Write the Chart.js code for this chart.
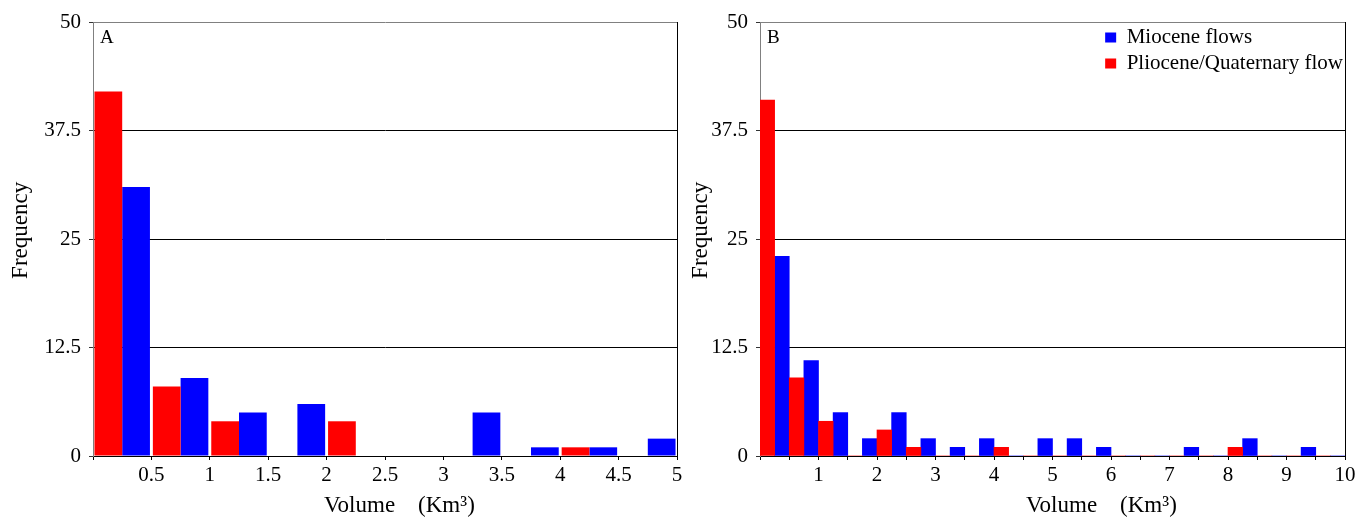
<!DOCTYPE html>
<html><head><meta charset="utf-8">
<script src="https://cdn.jsdelivr.net/npm/chart.js@4/dist/chart.umd.min.js"></script>
<style>
html,body{margin:0;padding:0;background:#fff;}
#wrap{position:relative;width:1372px;height:524px;overflow:hidden;}
canvas{position:absolute;top:0;}
</style></head><body>
<div id="wrap">
<canvas id="chartA" width="686" height="524" style="left:0"></canvas>
<canvas id="chartB" width="686" height="524" style="left:686px"></canvas>
</div>
<script>
// ---- Data ----
// Panel A: bin centres (Km^3), bin width 0.5
const binsA = [0.25, 0.75, 1.25, 1.75, 2.25, 2.75, 3.25, 3.75, 4.25, 4.75];
const plioceneA = [42, 8, 4, 0, 4, 0, 0, 0, 1, 0];
const mioceneA  = [31, 9, 5, 6, 0, 0, 5, 1, 1, 2];
const xTickLabelsA = ['', '0.5', '1', '1.5', '2', '2.5', '3', '3.5', '4', '4.5', '5'];

// Panel B: bin centres (Km^3), bin width 0.5
const binsB = [0.25, 0.75, 1.25, 1.75, 2.25, 2.75, 3.25, 3.75, 4.25, 4.75,
               5.25, 5.75, 6.25, 6.75, 7.25, 7.75, 8.25, 8.75, 9.25, 9.75];
const plioceneB = [41, 9, 4, 0, 3, 1, 0, 0, 1, 0, 0, 0, 0, 0, 0, 0, 1, 0, 0, 0];
const mioceneB  = [23, 11, 5, 2, 5, 2, 1, 2, 0, 2, 2, 1, 0, 0, 1, 0, 2, 0, 1, 0];
const xTickLabelsB = ['', '', '1', '', '2', '', '3', '', '4', '', '5', '', '6', '', '7', '', '8', '', '9', '', '10'];

const yTickLabels = ['0', '12.5', '25', '37.5', '50'];
const seriesNames = ['Pliocene/Quaternary flow', 'Miocene flows'];
const seriesColors = ['#ff0000', '#0000ff'];

// ---- Styling ----
const FAMILY = "'Liberation Serif', 'Times New Roman', serif";
Chart.defaults.font.family = FAMILY;
Chart.defaults.color = '#000';

function panelLabel(text) {
  return {
    id: 'panelLabel' + text,
    afterDraw(chart) {
      const ctx = chart.ctx, a = chart.chartArea;
      ctx.save();
      ctx.font = '19px ' + FAMILY;
      ctx.fillStyle = '#000';
      ctx.textBaseline = 'alphabetic';
      ctx.textAlign = 'left';
      ctx.fillText(text, a.left + 7, a.top + 21);
      ctx.restore();
    }
  };
}

const legendToCorner = {
  id: 'legendToCorner',
  afterLayout(chart) {
    const lg = chart.legend;
    if (!lg || !lg.options.display) return;
    const a = chart.chartArea;
    const w = lg.width;
    lg.left = a.right - w + 8;
    lg.right = lg.left + w;
    lg.top = a.top;
    lg.bottom = a.bottom;
  }
};

function makeChart(id, bins, plio, mio, xMax, xLabels, opts) {
  const mk = (vals) => bins.map((x, i) => ({x: x, y: vals[i]}));
  return new Chart(document.getElementById(id), {
    type: 'bar',
    data: {
      datasets: [
        {label: seriesNames[0], data: mk(plio), backgroundColor: seriesColors[0], borderColor: seriesColors[0],
         borderWidth: 0, categoryPercentage: opts.catPct, barPercentage: 1},
        {label: seriesNames[1], data: mk(mio), backgroundColor: seriesColors[1], borderColor: seriesColors[1],
         borderWidth: 0, categoryPercentage: opts.catPct, barPercentage: 1}
      ]
    },
    options: {
      responsive: false,
      animation: false,
      devicePixelRatio: 1,
      layout: {padding: {top: 22, right: opts.padRight, bottom: 0, left: 0}},
      plugins: {
        tooltip: {enabled: false},
        legend: {
          display: opts.legend,
          position: 'chartArea',
          align: 'start',
          reverse: true,
          labels: {font: {family: FAMILY, size: 21}, color: '#000', boxWidth: 11, boxHeight: 10, padding: 5}
        }
      },
      scales: {
        x: {
          type: 'linear', min: 0, max: xMax, offset: false,
          afterFit(s) { s.height = 68; },
          ticks: {stepSize: 0.5, autoSkip: false, maxRotation: 0, minRotation: 0, maxTicksLimit: 100,
                  padding: 3, color: '#000', font: {family: FAMILY, size: 21},
                  callback: (v, i) => xLabels[i]},
          grid: {offset: false, drawOnChartArea: true, lineWidth: 1,
                 color: (c) => (c.tick && c.tick.value === xMax) ? '#000' : 'rgba(0,0,0,0)',
                 tickColor: '#000', tickLength: 4},
          border: {display: true, color: '#000', width: 1},
          title: {display: true, text: opts.xTitle, font: {family: FAMILY, size: 23}, color: '#000',
                  padding: {top: 0, bottom: 4}}
        },
        y: {
          min: 0, max: 50,
          afterFit(s) { s.width = opts.yWidth; },
          ticks: {stepSize: 12.5, padding: 8, color: '#000', font: {family: FAMILY, size: 21},
                  callback: (v, i) => yTickLabels[i]},
          grid: {lineWidth: 1, color: (c) => (c.tick && c.tick.value === 50) ? '#808080' : '#000',
                 tickColor: '#333', tickLength: 4},
          border: {display: true, color: '#808080', width: 1},
          title: {display: true, text: '   Frequency', font: {family: FAMILY, size: 23}, color: '#000',
                  padding: {top: opts.yTitlePad, bottom: 0}}
        }
      }
    },
    plugins: [panelLabel(opts.panel), legendToCorner]
  });
}

makeChart('chartA', binsA, plioceneA, mioceneA, 5, xTickLabelsA,
  {catPct: 0.95, padRight: 9, yWidth: 93, yTitlePad: 7, legend: false, panel: 'A',
   xTitle: '     Volume    (Km³)'});
makeChart('chartB', binsB, plioceneB, mioceneB, 10, xTickLabelsB,
  {catPct: 1.0, padRight: 27, yWidth: 74, yTitlePad: 1, legend: true, panel: 'B',
   xTitle: '                 Volume    (Km³)'});
</script>
</body></html>
